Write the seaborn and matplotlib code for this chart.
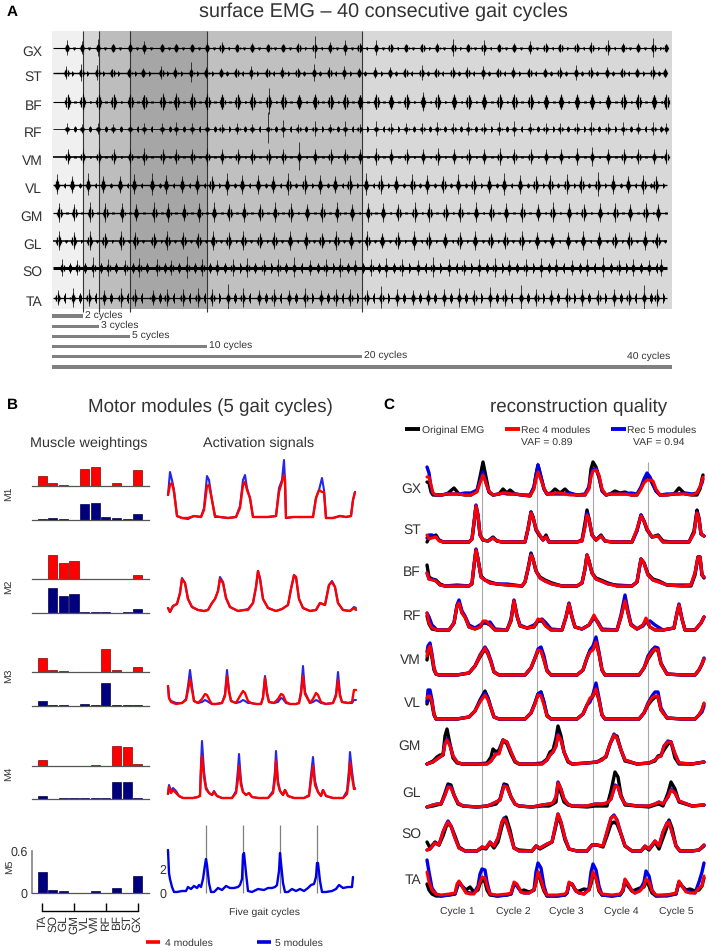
import numpy as np
import seaborn as sns
import matplotlib.pyplot as plt
from matplotlib.lines import Line2D

W, H = 708, 951

# --- panel A: EMG bursts, half heights in px for each of the 40 cycles ---
ROWS = ["GX", "ST", "BF", "RF", "VM", "VL", "GM", "GL", "SO", "TA"]
CYCLE_TIMES = [0.97, 1.94, 2.97, 3.94, 5.03, 5.93, 7.1, 8.0, 9.03, 10.0,
               10.95, 11.95, 12.9, 13.95, 14.9, 15.9, 16.95, 17.95, 18.9, 19.85,
               20.9, 21.85, 22.85, 23.9, 24.85, 25.9, 26.85, 27.85, 28.85, 29.8,
               30.85, 31.85, 32.8, 33.85, 34.8, 35.85, 36.85, 37.8, 38.8, 39.6]
PHASE = [0.0, -0.05, 0.03, 0.0, 0.03, -0.65, -0.5, -0.55, -0.3, -0.6]
SECOND_PHASE = [0.45, 0.4, 0.5, 0.5, 0.5, 0.5, 0.5, 0.5, 0.5, 0.45]
SECOND_AMP = [1.5, 2.5, 1, 3, 1, 2.5, 1, 1.5, 5, 5]
BODY = [4, 4, 7, 2.5, 5, 6, 6, 6, 4, 5]
BASE_LW = [0.8, 1.0, 0.8, 0.6, 1.2, 1.0, 0.9, 1.1, 2.2, 0.9]
SPIKES = [
    [8, 7, 9, 4, 6, 7, 4, 4, 3, 6, 6, 3, 5, 3, 3, 5, 12, 6, 8, 5, 8, 4, 3, 4, 5, 9, 4, 8, 4, 5, 7, 5, 4, 5, 6, 8, 5, 5, 10, 4],
    [7, 9, 8, 4, 5, 5, 7, 6, 11, 6, 5, 5, 7, 5, 6, 5, 9, 6, 7, 5, 6, 6, 5, 8, 5, 6, 6, 7, 5, 6, 5, 5, 6, 8, 6, 6, 5, 5, 7, 5],
    [8, 9, 8, 8, 8, 7, 9, 9, 9, 9, 8, 8, 9, 14, 8, 7, 8, 7, 8, 7, 8, 7, 8, 10, 8, 8, 7, 8, 8, 8, 8, 7, 8, 8, 8, 7, 8, 8, 7, 8],
    [6, 5, 6, 5, 5, 6, 6, 7, 6, 7, 5, 6, 5, 17, 9, 5, 8, 5, 8, 5, 8, 6, 6, 6, 7, 6, 7, 6, 7, 8, 6, 6, 6, 6, 7, 6, 7, 6, 7, 6],
    [8, 8, 8, 8, 8, 9, 8, 8, 8, 9, 8, 8, 8, 8, 8, 15, 8, 8, 8, 8, 9, 8, 8, 8, 9, 8, 8, 8, 9, 8, 8, 8, 8, 9, 10, 8, 8, 8, 8, 8],
    [11, 9, 12, 9, 9, 11, 12, 10, 9, 10, 9, 12, 10, 10, 9, 12, 10, 10, 9, 10, 12, 10, 9, 11, 10, 9, 11, 10, 9, 12, 10, 9, 10, 11, 9, 13, 10, 9, 10, 9],
    [10, 9, 11, 10, 10, 9, 11, 10, 9, 10, 11, 9, 10, 9, 11, 10, 9, 10, 11, 9, 10, 10, 9, 11, 10, 9, 10, 11, 9, 10, 10, 9, 11, 10, 9, 10, 10, 9, 10, 9],
    [10, 9, 10, 8, 10, 9, 8, 10, 9, 8, 10, 9, 10, 8, 9, 10, 9, 8, 10, 9, 10, 8, 9, 10, 9, 8, 9, 10, 8, 9, 10, 9, 8, 9, 10, 9, 8, 9, 10, 8],
    [9, 8, 11, 9, 8, 10, 9, 8, 12, 9, 8, 9, 10, 8, 9, 11, 8, 9, 10, 8, 9, 10, 9, 8, 11, 9, 8, 9, 10, 8, 9, 10, 9, 8, 9, 11, 8, 9, 8, 9],
    [8, 10, 9, 8, 10, 9, 8, 9, 9, 10, 9, 14, 10, 8, 9, 8, 10, 8, 9, 9, 8, 12, 9, 8, 8, 9, 10, 8, 11, 9, 13, 9, 8, 10, 9, 8, 9, 8, 13, 9],
]
LENGTHS = [2, 3, 5, 10, 20, 40]
LENGTH_LABELS = ["2 cycles", "3 cycles", "5 cycles", "10 cycles", "20 cycles", ""]
SHADES = ["#f0f0f0", "#d6d6d6", "#bdbdbd", "#a6a6a6", "#c0c0c0", "#d8d8d8"]

# --- panel B: muscle weightings ---
MUSCLES = ["TA", "SO", "GL", "GM", "VL", "VM", "RF", "BF", "ST", "GX"]
M1_RED = [.14, .04, .015, .005, .25, .275, .005, .04, .005, .23]
M1_BLUE = [.01, .025, .01, .005, .225, .24, .05, .025, .01, .09]
M2_RED = [0, .35, .23, .26, .005, .005, .005, .005, .005, .06]
M2_BLUE = [0, .36, .24, .275, .01, .01, .01, 0, .01, .06]
M3_RED = [.20, .035, .02, 0, 0, 0, .335, .035, 0, .075]
M3_BLUE = [.07, .01, .01, 0, .03, .01, .325, .015, .01, .01]
M4_RED = [.08, .005, .005, .005, .005, .02, .005, .285, .275, .035]
M4_BLUE = [.04, 0, .01, .01, .01, .01, .01, .24, .24, .01]
M5_BLUE = [.30, .05, .03, .005, .005, .03, .005, .065, .005, .24]

# --- panel B: activation signals (x and y in px of the trace box) ---
A1_X = [0, 2, 4, 6, 9, 14, 20, 26, 33, 36, 39, 41, 44, 47, 52, 60, 68, 72, 75, 77, 79, 82, 85, 90, 100, 108, 111, 114, 116, 117, 118, 125, 135, 145, 148, 151, 154, 156, 158, 165, 172, 178, 183, 185, 187]
A1_RED = [25, 35, 37, 28, 4, 2, 2, 4, 3, 10, 34, 35, 20, 4, 3, 2, 3, 12, 35, 38, 30, 22, 3, 3, 3, 4, 28, 38, 45, 40, 2, 3, 3, 3, 22, 30, 28, 28, 2, 2, 4, 3, 4, 20, 28]
A1_BLUE = [25, 48, 40, 30, 4, 2, 1, 4, 3, 12, 44, 40, 20, 3, 3, 2, 3, 14, 40, 45, 32, 22, 3, 3, 3, 4, 32, 40, 60, 40, 2, 3, 3, 3, 22, 30, 42, 30, 2, 2, 4, 3, 4, 20, 28]
A2_X = [0, 2, 5, 9, 12, 14, 17, 20, 24, 30, 36, 40, 44, 47, 50, 52, 55, 58, 62, 70, 76, 80, 85, 88, 90, 92, 95, 100, 108, 114, 120, 123, 126, 128, 131, 135, 142, 148, 152, 157, 161, 164, 167, 170, 175, 182, 186, 188]
A2_RED = [5, 1, 7, 9, 20, 34, 30, 14, 6, 3, 2, 3, 10, 14, 22, 34, 30, 15, 6, 2, 3, 3, 10, 26, 42, 34, 14, 5, 2, 4, 8, 24, 38, 36, 14, 5, 2, 3, 10, 8, 28, 31, 26, 10, 3, 2, 5, 3]
A2_BLUE = [5, 1, 7, 9, 20, 35, 30, 14, 6, 3, 2, 3, 10, 14, 22, 36, 31, 15, 6, 2, 3, 4, 10, 26, 42, 35, 14, 5, 2, 4, 8, 24, 37, 36, 14, 5, 2, 3, 10, 8, 28, 32, 26, 10, 3, 2, 6, 5]
A3_X = [0, 1, 3, 8, 14, 18, 20, 22, 24, 26, 30, 34, 37, 39, 42, 44, 48, 54, 57, 59, 61, 63, 68, 72, 75, 77, 80, 83, 88, 93, 95, 97, 99, 101, 106, 110, 113, 115, 118, 122, 128, 131, 133, 135, 137, 142, 145, 148, 150, 153, 158, 165, 168, 170, 172, 174, 180, 184, 186, 188]
A3_RED = [20, 8, 4, 2, 3, 6, 16, 27, 16, 5, 3, 7, 12, 11, 5, 2, 2, 3, 10, 30, 14, 5, 3, 10, 15, 13, 5, 3, 2, 2, 8, 28, 12, 4, 3, 7, 12, 11, 4, 2, 2, 3, 12, 30, 12, 3, 7, 13, 11, 4, 2, 3, 10, 26, 10, 4, 3, 4, 16, 16]
A3_BLUE = [20, 8, 5, 3, 3, 7, 20, 36, 20, 5, 3, 4, 6, 5, 3, 2, 2, 3, 12, 36, 16, 5, 3, 4, 6, 5, 3, 3, 2, 2, 9, 30, 14, 4, 3, 4, 8, 7, 3, 2, 2, 3, 15, 40, 14, 3, 4, 6, 5, 3, 2, 3, 12, 34, 12, 4, 3, 3, 6, 6]
A4_X = [0, 1, 3, 5, 8, 11, 15, 25, 30, 32, 33, 34, 36, 38, 41, 44, 46, 49, 54, 64, 68, 70, 71, 73, 75, 78, 81, 84, 90, 100, 105, 107, 108, 110, 112, 115, 117, 120, 126, 136, 141, 143, 145, 147, 150, 153, 155, 158, 165, 175, 179, 181, 182, 184, 186, 187]
A4_RED = [5, 12, 6, 9, 6, 3, 1, 1, 2, 3, 28, 43, 22, 10, 6, 4, 7, 3, 1, 1, 6, 20, 33, 14, 7, 4, 6, 2, 1, 1, 6, 20, 38, 15, 8, 4, 9, 3, 1, 1, 3, 18, 33, 14, 7, 3, 9, 3, 1, 1, 5, 20, 37, 22, 10, 10]
A4_BLUE = [5, 14, 8, 11, 8, 3, 1, 1, 2, 4, 36, 58, 28, 12, 6, 4, 8, 3, 1, 1, 8, 30, 45, 18, 7, 4, 6, 2, 1, 1, 8, 28, 48, 18, 8, 4, 9, 3, 1, 1, 4, 24, 42, 18, 7, 3, 9, 3, 1, 1, 8, 30, 47, 28, 12, 11]
A5_X = [0, 1, 2, 4, 6, 9, 14, 18, 20, 23, 26, 29, 31, 33, 35, 37, 38, 39, 41, 43, 46, 50, 54, 58, 62, 66, 70, 72, 74, 75, 76, 78, 80, 84, 90, 96, 100, 104, 107, 109, 111, 112, 113, 115, 117, 120, 124, 128, 132, 136, 140, 143, 146, 148, 149, 150, 152, 154, 158, 164, 168, 171, 175, 180, 184, 185]
A5_BLUE = [43, 20, 14, 6, 1, 1, 2, 2, 6, 4, 7, 5, 8, 6, 14, 28, 34, 28, 10, 1, 1, 5, 3, 7, 5, 5, 6, 8, 14, 38, 40, 20, 2, 1, 4, 3, 5, 5, 6, 8, 22, 40, 30, 10, 1, 1, 4, 2, 4, 2, 5, 8, 9, 16, 30, 30, 12, 1, 1, 2, 4, 8, 5, 6, 6, 16]
A5_MARKS = [38, 75, 112, 149]

# --- panel C: reconstruction traces (x and y in px of the row box) ---
GX_X = [0, 2, 4, 6, 9, 14, 20, 27, 32, 38, 44, 50, 53, 56, 59, 62, 66, 72, 76, 80, 83, 88, 95, 103, 107, 109, 111, 114, 117, 120, 124, 128, 133, 138, 143, 150, 158, 162, 164, 166, 169, 172, 175, 179, 183, 188, 193, 198, 204, 210, 214, 217, 220, 223, 226, 229, 233, 240, 247, 252, 258, 265, 270, 273, 275, 276]
GX_RED = [20, 20, 12, 4, 2, 2, 3, 3, 3, 2, 2, 5, 14, 22, 14, 6, 2, 3, 4, 4, 3, 3, 2, 1, 8, 18, 25, 17, 9, 3, 3, 4, 4, 3, 2, 2, 2, 8, 20, 26, 27, 22, 8, 2, 3, 3, 3, 3, 2, 2, 8, 14, 17, 17, 16, 8, 2, 2, 3, 3, 3, 2, 4, 10, 16, 20]
GX_BLACK = [15, 14, 5, 2, 2, 2, 3, 9, 3, 2, 2, 6, 20, 35, 20, 5, 2, 3, 8, 4, 7, 3, 2, 1, 10, 22, 32, 20, 8, 3, 4, 8, 4, 8, 3, 2, 2, 10, 28, 35, 30, 20, 6, 2, 3, 6, 4, 5, 2, 2, 9, 16, 22, 18, 12, 6, 2, 2, 3, 9, 3, 2, 2, 8, 18, 22]
GX_BLUE = [30, 24, 10, 3, 2, 2, 3, 3, 3, 4, 4, 7, 16, 25, 14, 5, 2, 3, 4, 3, 3, 3, 2, 2, 10, 22, 32, 20, 8, 3, 3, 3, 3, 3, 4, 2, 3, 10, 22, 28, 28, 20, 7, 2, 3, 3, 3, 3, 4, 3, 10, 18, 24, 20, 13, 6, 2, 3, 3, 3, 4, 3, 4, 10, 14, 18]
ST_X = [0, 2, 5, 9, 12, 16, 30, 42, 45, 47, 49, 51, 53, 56, 61, 66, 70, 75, 90, 98, 101, 104, 106, 109, 112, 116, 119, 122, 130, 150, 155, 158, 160, 162, 165, 169, 174, 178, 185, 205, 210, 214, 217, 220, 225, 231, 236, 245, 262, 267, 270, 272, 274, 277]
ST_RED = [8, 4, 5, 6, 2, 1, 1, 1, 4, 20, 37, 28, 8, 3, 2, 5, 2, 1, 1, 1, 14, 30, 26, 14, 9, 3, 6, 1, 1, 1, 2, 16, 28, 24, 8, 3, 7, 2, 1, 1, 14, 27, 22, 14, 6, 7, 1, 1, 1, 10, 30, 24, 9, 7]
ST_BLACK = [1, 5, 6, 8, 3, 1, 1, 1, 4, 20, 37, 27, 8, 3, 2, 6, 2, 1, 1, 1, 14, 31, 26, 13, 8, 3, 8, 1, 1, 1, 3, 20, 33, 24, 8, 3, 8, 2, 1, 1, 13, 28, 22, 13, 6, 8, 2, 1, 1, 12, 33, 25, 9, 7]
ST_BLUE = [5, 8, 8, 6, 3, 1, 1, 1, 4, 20, 38, 28, 8, 3, 2, 5, 2, 1, 1, 1, 14, 31, 26, 14, 9, 3, 6, 1, 1, 1, 2, 17, 30, 24, 8, 3, 7, 2, 1, 1, 12, 28, 22, 14, 6, 7, 1, 1, 1, 10, 31, 24, 9, 7]
BF_X = [0, 2, 5, 9, 13, 18, 30, 42, 45, 47, 49, 51, 54, 58, 63, 70, 80, 95, 98, 101, 104, 106, 109, 113, 118, 125, 135, 150, 155, 158, 160, 162, 165, 169, 174, 181, 190, 205, 210, 214, 217, 221, 226, 232, 240, 255, 264, 268, 271, 273, 275, 277]
BF_RED = [14, 8, 7, 6, 2, 1, 1, 1, 4, 22, 37, 28, 10, 7, 4, 3, 2, 1, 5, 18, 32, 28, 16, 9, 6, 3, 1, 1, 4, 18, 32, 26, 14, 8, 6, 3, 1, 1, 5, 28, 24, 12, 7, 5, 2, 1, 2, 14, 30, 30, 12, 10]
BF_BLACK = [22, 10, 8, 7, 3, 1, 1, 1, 3, 21, 37, 28, 11, 7, 5, 3, 2, 1, 5, 18, 34, 28, 16, 10, 7, 4, 1, 1, 4, 18, 32, 26, 14, 9, 7, 4, 1, 1, 5, 28, 24, 13, 8, 6, 2, 1, 1, 12, 30, 30, 12, 9]
BF_BLUE = [14, 8, 8, 6, 2, 1, 2, 1, 4, 22, 38, 28, 10, 7, 4, 3, 3, 1, 5, 18, 33, 28, 16, 9, 6, 3, 1, 1, 4, 18, 32, 26, 14, 8, 6, 3, 2, 1, 5, 28, 24, 12, 7, 5, 2, 2, 2, 14, 30, 30, 12, 10]
RF_X = [0, 2, 5, 10, 22, 27, 30, 32, 35, 38, 42, 48, 53, 56, 59, 63, 68, 80, 84, 87, 90, 93, 100, 107, 111, 115, 119, 124, 135, 139, 142, 145, 148, 155, 162, 167, 171, 175, 190, 194, 198, 201, 204, 210, 216, 219, 223, 228, 236, 247, 250, 252, 255, 258, 268, 274, 277]
RF_RED = [18, 8, 3, 1, 1, 8, 25, 28, 18, 14, 4, 2, 4, 10, 10, 6, 1, 1, 10, 30, 15, 5, 3, 4, 12, 11, 5, 1, 1, 14, 27, 14, 4, 2, 6, 16, 8, 1, 1, 14, 30, 18, 6, 2, 6, 13, 4, 1, 1, 3, 18, 26, 12, 1, 1, 8, 14]
RF_BLACK = [15, 7, 2, 1, 1, 8, 25, 29, 18, 14, 4, 2, 4, 8, 8, 6, 1, 1, 10, 30, 15, 5, 3, 4, 10, 10, 5, 1, 1, 14, 27, 14, 4, 2, 6, 14, 8, 1, 1, 14, 32, 18, 6, 2, 6, 11, 4, 1, 1, 3, 18, 26, 12, 1, 1, 8, 14]
RF_BLUE = [18, 14, 6, 1, 1, 8, 26, 31, 20, 15, 6, 3, 6, 8, 8, 9, 2, 1, 12, 31, 15, 6, 3, 6, 10, 12, 8, 2, 1, 14, 28, 14, 4, 2, 6, 14, 9, 2, 1, 16, 36, 20, 7, 2, 5, 9, 10, 6, 1, 3, 18, 27, 12, 1, 1, 8, 14]
VM_X = [0, 1, 3, 5, 7, 9, 12, 20, 30, 42, 48, 53, 58, 61, 64, 67, 72, 85, 98, 104, 108, 111, 114, 117, 120, 124, 135, 150, 156, 160, 163, 166, 169, 172, 175, 178, 185, 200, 212, 217, 221, 225, 228, 231, 234, 240, 255, 268, 272, 275, 277]
VM_RED = [20, 26, 30, 20, 8, 2, 1, 1, 1, 3, 10, 20, 28, 22, 14, 4, 1, 1, 1, 8, 18, 26, 25, 16, 5, 1, 1, 1, 6, 18, 24, 26, 34, 22, 6, 1, 1, 1, 1, 8, 18, 24, 27, 26, 12, 2, 1, 1, 6, 12, 17]
VM_BLACK = [16, 24, 28, 18, 6, 2, 1, 1, 1, 3, 10, 19, 27, 22, 14, 4, 1, 1, 1, 8, 18, 25, 26, 16, 5, 1, 1, 1, 6, 18, 25, 27, 33, 22, 6, 1, 1, 1, 1, 8, 17, 23, 27, 25, 12, 2, 1, 1, 6, 12, 17]
VM_BLUE = [24, 30, 33, 22, 8, 2, 1, 1, 1, 3, 10, 21, 29, 24, 15, 4, 1, 1, 1, 8, 18, 27, 29, 20, 6, 1, 1, 1, 6, 18, 26, 30, 39, 24, 6, 1, 1, 1, 1, 8, 20, 26, 29, 28, 13, 2, 1, 1, 6, 12, 18]
VL_RED = [22, 24, 24, 18, 6, 1, 1, 1, 1, 3, 9, 18, 25, 20, 12, 3, 1, 1, 1, 7, 16, 25, 24, 15, 4, 1, 1, 1, 6, 15, 22, 24, 31, 20, 5, 1, 1, 1, 1, 7, 16, 22, 24, 24, 10, 2, 1, 1, 5, 10, 17]
VL_BLACK = [16, 22, 22, 16, 5, 1, 1, 1, 1, 3, 9, 20, 29, 22, 12, 3, 1, 1, 1, 7, 17, 26, 28, 17, 4, 1, 1, 1, 6, 15, 20, 24, 30, 20, 5, 1, 1, 1, 1, 7, 15, 20, 23, 23, 10, 2, 1, 1, 5, 10, 16]
VL_BLUE = [18, 30, 30, 20, 6, 1, 1, 1, 1, 3, 9, 19, 27, 22, 12, 3, 1, 1, 1, 7, 17, 26, 28, 18, 5, 1, 1, 1, 6, 15, 18, 26, 37, 22, 5, 1, 1, 1, 1, 7, 17, 24, 28, 28, 12, 2, 1, 1, 5, 8, 14]
GM_X = [0, 6, 10, 13, 16, 18, 20, 23, 26, 30, 35, 50, 60, 64, 66, 69, 72, 76, 80, 84, 88, 92, 105, 115, 120, 123, 126, 129, 131, 134, 137, 141, 145, 160, 170, 175, 179, 183, 187, 190, 194, 198, 210, 222, 228, 231, 234, 237, 241, 244, 248, 252, 265, 277]
GM_RED = [0, 2, 5, 7, 9, 20, 24, 18, 8, 2, 0, 0, 0, 3, 6, 10, 10, 24, 22, 12, 3, 0, 0, 0, 4, 9, 12, 18, 29, 24, 12, 3, 0, 1, 2, 4, 8, 20, 29, 26, 14, 4, 0, 1, 4, 7, 8, 18, 22, 22, 10, 1, 0, 2]
GM_BLACK = [0, 3, 7, 9, 9, 28, 35, 20, 6, 1, 0, 0, 1, 7, 15, 12, 14, 24, 20, 10, 2, 0, 0, 1, 5, 12, 14, 26, 38, 28, 12, 2, 0, 1, 2, 5, 7, 20, 28, 28, 14, 3, 0, 1, 3, 8, 9, 14, 20, 22, 6, 0, 0, 2]
GM_BLUE = [0, 2, 5, 7, 9, 21, 25, 19, 8, 2, 0, 0, 0, 3, 6, 10, 11, 24, 22, 12, 3, 0, 0, 0, 4, 9, 12, 18, 30, 24, 12, 3, 0, 1, 2, 4, 8, 20, 30, 26, 14, 4, 0, 1, 4, 7, 8, 18, 23, 22, 10, 1, 0, 2]
GL_X = [0, 6, 10, 14, 18, 21, 24, 27, 31, 36, 50, 60, 65, 69, 73, 77, 80, 84, 88, 92, 105, 115, 122, 126, 129, 131, 134, 137, 141, 145, 160, 168, 175, 180, 184, 188, 191, 194, 198, 210, 222, 228, 232, 236, 241, 244, 248, 252, 265, 277]
GL_RED = [0, 2, 3, 3, 12, 20, 19, 12, 4, 1, 0, 1, 3, 5, 7, 21, 20, 10, 3, 1, 0, 2, 3, 4, 10, 24, 18, 8, 3, 1, 1, 3, 3, 4, 8, 21, 20, 10, 3, 1, 1, 3, 5, 3, 10, 17, 14, 6, 1, 2]
GL_BLACK = [0, 1, 2, 3, 14, 23, 22, 12, 3, 1, 0, 1, 2, 3, 8, 23, 22, 10, 3, 1, 0, 1, 1, 3, 5, 22, 14, 5, 2, 1, 0, 1, 1, 1, 16, 35, 30, 12, 2, 1, 0, 2, 3, 1, 14, 25, 18, 5, 1, 2]
GL_BLUE = [0, 2, 3, 3, 12, 21, 20, 12, 4, 1, 0, 1, 3, 5, 7, 22, 20, 10, 3, 1, 0, 2, 3, 4, 10, 25, 18, 8, 3, 1, 1, 3, 3, 4, 8, 22, 20, 10, 3, 1, 1, 3, 5, 3, 10, 18, 14, 6, 1, 2]
SO_X = [0, 3, 8, 12, 16, 19, 21, 24, 28, 32, 38, 50, 55, 59, 63, 67, 71, 75, 77, 79, 83, 87, 92, 105, 109, 113, 120, 125, 128, 131, 134, 138, 142, 150, 160, 165, 170, 176, 180, 184, 187, 190, 194, 198, 205, 214, 218, 222, 228, 232, 236, 240, 242, 245, 249, 253, 265, 272, 277]
SO_RED = [2, 3, 9, 7, 20, 27, 30, 26, 14, 4, 1, 1, 5, 4, 10, 6, 14, 30, 33, 31, 18, 4, 1, 1, 6, 4, 8, 10, 24, 38, 30, 14, 3, 1, 1, 7, 7, 6, 20, 34, 36, 32, 18, 6, 1, 1, 6, 3, 11, 6, 20, 29, 30, 20, 6, 1, 1, 2, 7]
SO_BLACK = [10, 4, 10, 7, 16, 25, 28, 26, 16, 5, 1, 1, 4, 3, 9, 4, 10, 26, 32, 35, 22, 4, 2, 1, 6, 3, 7, 10, 22, 36, 28, 12, 3, 1, 1, 7, 7, 5, 16, 28, 30, 28, 18, 6, 1, 1, 5, 2, 10, 3, 14, 25, 32, 24, 6, 1, 1, 2, 6]
SO_BLUE = [2, 3, 9, 7, 20, 27, 31, 26, 14, 4, 1, 1, 5, 4, 10, 6, 14, 30, 34, 31, 18, 4, 1, 1, 6, 4, 8, 10, 24, 38, 30, 14, 3, 1, 1, 7, 7, 6, 20, 34, 37, 32, 18, 6, 1, 1, 6, 3, 11, 6, 20, 29, 31, 20, 6, 1, 1, 2, 7]
TA_X = [0, 2, 5, 9, 14, 22, 28, 30, 32, 35, 39, 43, 47, 51, 53, 55, 58, 60, 63, 70, 80, 84, 87, 90, 94, 97, 102, 107, 109, 111, 114, 117, 120, 130, 138, 140, 142, 145, 149, 152, 157, 162, 164, 166, 169, 172, 175, 185, 193, 196, 198, 201, 205, 208, 213, 217, 219, 222, 225, 229, 240, 249, 252, 255, 259, 263, 268, 272, 275, 277]
TA_RED = [24, 14, 6, 2, 1, 2, 3, 12, 15, 10, 3, 2, 2, 8, 14, 19, 18, 10, 2, 1, 2, 3, 14, 12, 4, 3, 3, 6, 14, 24, 16, 6, 1, 1, 2, 4, 14, 12, 5, 3, 2, 6, 14, 24, 18, 6, 2, 1, 2, 6, 17, 12, 5, 3, 5, 10, 17, 14, 5, 1, 1, 3, 15, 10, 4, 3, 3, 8, 10, 20]
TA_BLACK = [12, 6, 2, 0, 0, 1, 2, 8, 14, 10, 6, 9, 4, 6, 12, 16, 14, 6, 1, 0, 1, 2, 12, 10, 5, 6, 4, 6, 14, 24, 14, 5, 0, 0, 1, 3, 12, 12, 5, 5, 7, 6, 12, 22, 18, 5, 1, 0, 1, 5, 15, 10, 5, 6, 8, 9, 15, 10, 3, 0, 1, 2, 14, 10, 6, 7, 5, 6, 10, 18]
TA_BLUE = [36, 24, 8, 2, 0, 1, 2, 9, 14, 10, 4, 3, 3, 10, 22, 27, 26, 14, 2, 0, 1, 2, 12, 10, 4, 3, 3, 6, 24, 33, 28, 10, 0, 0, 1, 3, 12, 12, 5, 3, 2, 8, 24, 32, 26, 10, 1, 0, 1, 6, 16, 12, 5, 3, 6, 14, 25, 20, 6, 0, 0, 2, 14, 10, 5, 4, 3, 14, 24, 33]
C_CYCLE_MARKS = [55, 110, 166, 221]
C_CYCLE_CENTERS = [30, 86, 139, 194, 249]
C_CYCLE_LABELS = ["Cycle 1", "Cycle 2", "Cycle 3", "Cycle 4", "Cycle 5"]

sns.set_theme(style="white")
plt.rcParams["font.family"] = ["Liberation Sans", "DejaVu Sans"]
plt.rcParams["text.hinting"] = "no_hinting"
TXT = "#333333"
RED = "#ff0000"
BLUE = "#0000e6"
NAVY = "#00007f"


def ax_px(fig, left, top, width, height):
    ax = fig.add_axes([left / W, 1 - (top + height) / H, width / W, height / H])
    ax.patch.set_alpha(0)
    return ax


def fig_text(fig, x, y, s, **kw):
    kw.setdefault("color", TXT)
    kw.setdefault("ha", "center")
    kw.setdefault("va", "center")
    fig.text(x / W, 1 - y / H, s, **kw)


def trace(ax, x, y, color, lw, alpha=1.0):
    sns.lineplot(x=x, y=y, color=color, lw=lw, alpha=alpha, estimator=None, ax=ax, legend=False)
    ax.lines[-1].set_clip_on(False)


def bars(fig, values, color, edge, baseline):
    ax = ax_px(fig, 32, baseline - 42, 117, 42)
    sns.barplot(x=MUSCLES, y=values, color=color, saturation=1, width=0.85,
                edgecolor=edge, linewidth=0.5, ax=ax)
    ax.set_xlim(-0.96, 10.07)
    ax.set_ylim(0, 0.6)
    ax.set_xticks([])
    ax.set_yticks([])
    sns.despine(ax=ax, left=True)
    ax.spines["bottom"].set_color("#555555")
    ax.spines["bottom"].set_linewidth(0.9)
    return ax


fig = plt.figure(figsize=(W / 100, H / 100), dpi=100)

# --- Panel A ---
fig_text(fig, 12, 12, "A", color="black", fontsize=11, fontweight="bold")
fig_text(fig, 383, 12, "surface EMG \u2013 40 consecutive gait cycles", fontsize=14.3)

ax = ax_px(fig, 52, 31, 620, 278)
ax.set_xlim(0, 40)
ax.set_ylim(278, 0)
start = 0
for stop, shade in zip(LENGTHS, SHADES):
    ax.axvspan(start, stop, color=shade, lw=0, zorder=0)
    start = stop
ax.vlines(LENGTHS[:-1], 0, 281, color="#333333", lw=0.8, zorder=3, clip_on=False)
row_y = [17, 42, 71, 98, 126, 154, 182, 210, 237, 267]
for i, name in enumerate(ROWS):
    amps = np.array(SPIKES[i], dtype=float)
    t1 = np.array(CYCLE_TIMES) + PHASE[i]
    t2 = t1 + SECOND_PHASE[i]
    keep1 = (t1 > 0) & (t1 < 39.8)
    keep2 = (t2 > 0) & (t2 < 39.8)
    y0 = row_y[i]
    ax.hlines(y0, 0.05, 39.7, color="black", lw=BASE_LW[i], zorder=4)
    ax.vlines(t1[keep1], y0 - amps[keep1], y0 + amps[keep1] * 0.85, color="#111111", lw=0.55, zorder=4)
    # burst body drawn as a spindle of short strokes
    for dt, k in [(-0.15, 0.25), (-0.08, 0.65), (0.0, 1.0), (0.08, 0.65), (0.15, 0.25)]:
        ax.vlines(t1[keep1] + dt, y0 - BODY[i] * k, y0 + BODY[i] * k, color="black", lw=0.9, zorder=4)
    for dt, k in [(-0.05, 0.6), (0.0, 1.0), (0.05, 0.6)]:
        ax.vlines(t2[keep2] + dt, y0 - SECOND_AMP[i] * k, y0 + SECOND_AMP[i] * k, color="black", lw=0.7, zorder=4)
ax.set_xticks([])
ax.set_yticks([y + 3 for y in row_y], ROWS, fontsize=10, color=TXT)
ax.tick_params(axis="y", length=0, pad=7)
sns.despine(ax=ax, left=True, bottom=True)

ax = ax_px(fig, 52, 311, 620, 61)
sns.barplot(y=[str(n) for n in LENGTHS], x=LENGTHS, color="#808080", saturation=1,
            width=0.32, orient="h", linewidth=0, ax=ax)
ax.set_xlim(0, 40)
ax.set_ylim(5.5, -0.5)
for i, (n, label) in enumerate(zip(LENGTHS, LENGTH_LABELS)):
    ax.text(n + 0.15, i - 0.1, label, fontsize=7.5, color=TXT, va="center")
ax.text(39.9, 3.95, "40 cycles", fontsize=7.5, color=TXT, va="center", ha="right")
ax.axis("off")

# --- Panel B ---
fig_text(fig, 12, 405, "B", color="black", fontsize=11, fontweight="bold")
fig_text(fig, 210, 407, "Motor modules (5 gait cycles)", fontsize=13.5)
fig_text(fig, 89, 443, "Muscle weightings", fontsize=10.4)
fig_text(fig, 259, 443, "Activation signals", fontsize=10.4)

for red, blue, red_base, blue_base in [(M1_RED, M1_BLUE, 486, 520), (M2_RED, M2_BLUE, 579, 613),
                                       (M3_RED, M3_BLUE, 672, 706), (M4_RED, M4_BLUE, 766, 799)]:
    bars(fig, red, RED, "#8a0000", red_base)
    bars(fig, blue, NAVY, "#000050", blue_base)
ax = bars(fig, M5_BLUE, NAVY, "#000050", 893)
ax.set_yticks([0, 0.6], ["0", "0.6"], fontsize=9, color=TXT)
ax.tick_params(axis="y", length=0, pad=3, left=False)
ax.spines["left"].set_visible(True)
ax.spines["left"].set_color("#888888")

for label, y in zip(["M1", "M2", "M3", "M4", "M5"], [494, 587, 676, 774, 867]):
    fig_text(fig, 9, y, label, fontsize=7.5, rotation=90)

ax = ax_px(fig, 32, 903, 117, 8)
ax.set_xlim(-0.96, 10.07)
ax.set_ylim(0, 1)
ax.xaxis.remove_overlapping_locs = False
ax.set_xticks([0, 3, 6, 9], [""] * 4)
ax.set_xticks(range(10), MUSCLES, minor=True, rotation=90, fontsize=8.5, color=TXT)
ax.tick_params(axis="x", which="major", direction="in", length=6, width=1, color="black", bottom=True)
ax.tick_params(axis="x", which="minor", length=0, pad=3)
ax.set_yticks([])
sns.despine(ax=ax, left=True)
ax.spines["bottom"].set_bounds(0, 9)
ax.spines["bottom"].set_color("black")
ax.spines["bottom"].set_linewidth(1)

for x, red, blue, base in [(A1_X, A1_RED, A1_BLUE, 520), (A2_X, A2_RED, A2_BLUE, 613),
                           (A3_X, A3_RED, A3_BLUE, 706), (A4_X, A4_RED, A4_BLUE, 799)]:
    ax = ax_px(fig, 168, base - 62, 188, 64)
    trace(ax, x, blue, BLUE, 1.5, alpha=0.85)
    trace(ax, x, red, RED, 1.7)
    ax.set_xlim(0, 188)
    ax.set_ylim(-2, 62)
    ax.axis("off")

ax = ax_px(fig, 168, 825, 188, 70)
trace(ax, A5_X, A5_BLUE, BLUE, 1.7)
ax.vlines(A5_MARKS, 0, 68, color="#808080", lw=0.9, zorder=1)
ax.set_xlim(0, 188)
ax.set_ylim(-2, 68)
ax.set_xticks([])
ax.set_yticks([0, 24], ["0", "2"], fontsize=9, color=TXT)
ax.tick_params(axis="y", length=0, pad=1)
sns.despine(ax=ax, left=True, bottom=True)
fig_text(fig, 264, 912, "Five gait cycles", fontsize=7.5)

handles = [Line2D([], [], color=RED, lw=2.6, solid_capstyle="butt"),
           Line2D([], [], color=BLUE, lw=2.6, solid_capstyle="butt")]
fig.legend(handles, ["4 modules", "5 modules"], ncol=2, frameon=False, fontsize=7.5,
           labelcolor=TXT, loc="center left", bbox_to_anchor=(137 / W, 1 - 943 / H),
           handlelength=1.35, handletextpad=0.4, columnspacing=4.3)

# --- Panel C ---
fig_text(fig, 389, 405, "C", color="black", fontsize=11, fontweight="bold")
fig_text(fig, 579, 407, "reconstruction quality", fontsize=13.5)

handles = [Line2D([], [], color="black", lw=2.8, solid_capstyle="butt"),
           Line2D([], [], color=RED, lw=2.8, solid_capstyle="butt"),
           Line2D([], [], color=BLUE, lw=2.8, solid_capstyle="butt")]
fig.legend(handles, ["Original EMG", "Rec 4 modules", "Rec 5 modules"], ncol=3, frameon=False,
           fontsize=7.5, labelcolor=TXT, loc="center left", bbox_to_anchor=(396 / W, 1 - 430 / H),
           handlelength=1.45, handletextpad=0.1, columnspacing=2.0)
fig_text(fig, 521, 443, "VAF = 0.89", fontsize=7.5, ha="left")
fig_text(fig, 633, 443, "VAF = 0.94", fontsize=7.5, ha="left")

ax = ax_px(fig, 427, 462, 276, 435)
ax.set_xlim(0, 276)
ax.set_ylim(0, 1)
ax.vlines(C_CYCLE_MARKS, 0, 1, color="#a8a8a8", lw=0.8)
ax.set_xticks(C_CYCLE_CENTERS, C_CYCLE_LABELS, fontsize=7.5, color=TXT)
ax.tick_params(axis="x", length=0, pad=7)
ax.set_yticks([])
sns.despine(ax=ax, left=True, bottom=True)

c_rows = [("GX", GX_X, GX_BLACK, GX_BLUE, GX_RED, 497, 8),
          ("ST", ST_X, ST_BLACK, ST_BLUE, ST_RED, 543, 13),
          ("BF", BF_X, BF_BLACK, BF_BLUE, BF_RED, 587, 15),
          ("RF", RF_X, RF_BLACK, RF_BLUE, RF_RED, 631, 15),
          ("VM", VM_X, VM_BLACK, VM_BLUE, VM_RED, 676, 16),
          ("VL", VM_X, VL_BLACK, VL_BLUE, VL_RED, 720, 17),
          ("GM", GM_X, GM_BLACK, GM_BLUE, GM_RED, 764, 18),
          ("GL", GL_X, GL_BLACK, GL_BLUE, GL_RED, 807, 14),
          ("SO", SO_X, SO_BLACK, SO_BLUE, SO_RED, 852, 18),
          ("TA", TA_X, TA_BLACK, TA_BLUE, TA_RED, 896, 16)]
for name, x, black, blue, red, base, up in c_rows:
    ax = ax_px(fig, 427, base - 50, 276, 52)
    trace(ax, x, black, "black", 2.4)
    trace(ax, x, blue, BLUE, 2.4)
    trace(ax, x, red, RED, 2.2)
    ax.set_xlim(0, 276)
    ax.set_ylim(-2, 50)
    ax.axis("off")
    fig_text(fig, 421, base - up, name, fontsize=10, ha="right")

fig.savefig("out.png", dpi=100)
